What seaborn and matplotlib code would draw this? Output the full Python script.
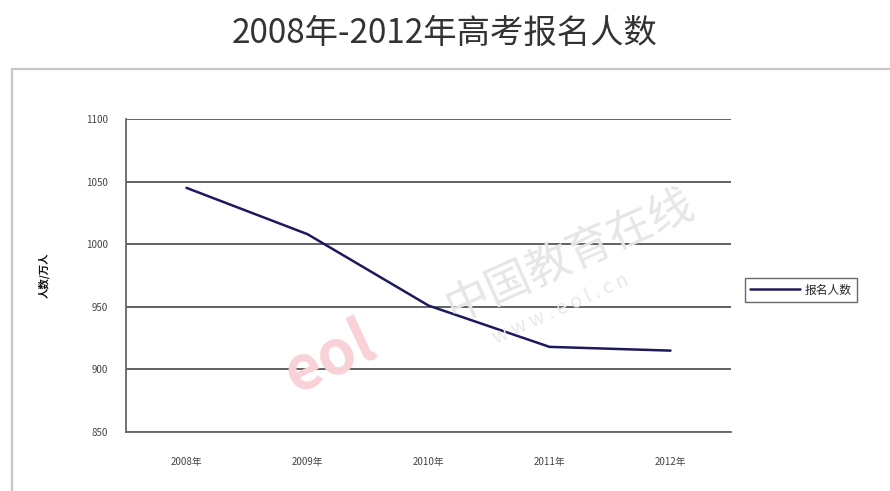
import matplotlib
matplotlib.use("Agg")
import matplotlib.pyplot as plt
import seaborn as sns
import pandas as pd
from matplotlib.patches import Rectangle

years = ["2008年", "2009年", "2010年", "2011年", "2012年"]
applicants = [1045, 1008, 951, 918, 915]
series_name = "报名人数"
y_ticks = [850, 900, 950, 1000, 1050, 1100]
title = "2008年-2012年高考报名人数"
y_label = "人数/万人"

sns.set_theme(style="white")
plt.rcParams["font.family"] = ["Noto Sans CJK SC", "DejaVu Sans"]

df = pd.DataFrame({"年份": years, series_name: applicants})

fig = plt.figure(figsize=(8.9, 4.91), dpi=100)
ax = fig.add_axes([126 / 890, 1 - 432 / 491, (731 - 126) / 890, (432 - 119) / 491])

# outer chart frame
fig.patches.append(Rectangle((12 / 890, -0.01), 0.99, 1 - 69 / 491 + 0.01,
                             transform=fig.transFigure, fill=False,
                             edgecolor="#c8c8c8", linewidth=1.6, zorder=0))

sns.lineplot(data=df, x="年份", y=series_name, ax=ax, sort=False,
             color="#1c1a5c", linewidth=1.8, label=series_name, zorder=3)

ax.set_ylim(850, 1100)
ax.set_xlim(-0.5, len(years) - 0.5)
ax.set_yticks(y_ticks)
ax.set_yticklabels([str(v) for v in y_ticks], fontsize=7, color="#444444")
ax.set_xticks(range(len(years)))
ax.set_xticklabels(years, fontsize=7, color="#444444")
ax.tick_params(axis="x", length=0, pad=18)
ax.tick_params(axis="y", length=0, pad=13)
ax.set_xticks([i + 0.5 for i in range(len(years) - 1)], minor=True)
ax.tick_params(axis="x", which="minor", direction="in", length=4, color="#777777", width=1)

ax.yaxis.grid(True, color="#555555", linewidth=1.3)
ax.set_axisbelow(True)
for s in ["top", "right"]:
    ax.spines[s].set_visible(False)
for s in ["left", "bottom"]:
    ax.spines[s].set_color("#666666")
    ax.spines[s].set_linewidth(1.3)

ax.set_xlabel("")
ax.set_ylabel(y_label, fontsize=7.5, fontweight="bold", color="#111111", labelpad=26)

# watermark
fig.text(0.64, 0.48, "中国教育在线", fontsize=32, color="#e6e6e6", rotation=24,
         ha="center", va="center", zorder=1)
fig.text(0.63, 0.37, "w w w . e o l . c n", fontsize=14, color="#e8e8e8", rotation=24,
         ha="center", va="center", zorder=1)
fig.text(0.37, 0.27, "eol", fontsize=44, color="#f8d2d7", rotation=25, fontweight="bold",
         ha="center", va="center", zorder=1)

leg = ax.legend(loc="center left", bbox_to_anchor=(745 / 890, 1 - 290 / 491),
                bbox_transform=fig.transFigure, frameon=True, fancybox=False,
                fontsize=8.5, handlelength=4.2, borderpad=0.45, handletextpad=0.4,
                borderaxespad=0)
leg.get_frame().set_edgecolor("#444444")
leg.get_frame().set_linewidth(1.0)

fig.text(445 / 890, 1 - 33 / 491, title, fontsize=24, color="#333333",
         ha="center", va="center")

fig.savefig("out.png", dpi=100, facecolor="white")
